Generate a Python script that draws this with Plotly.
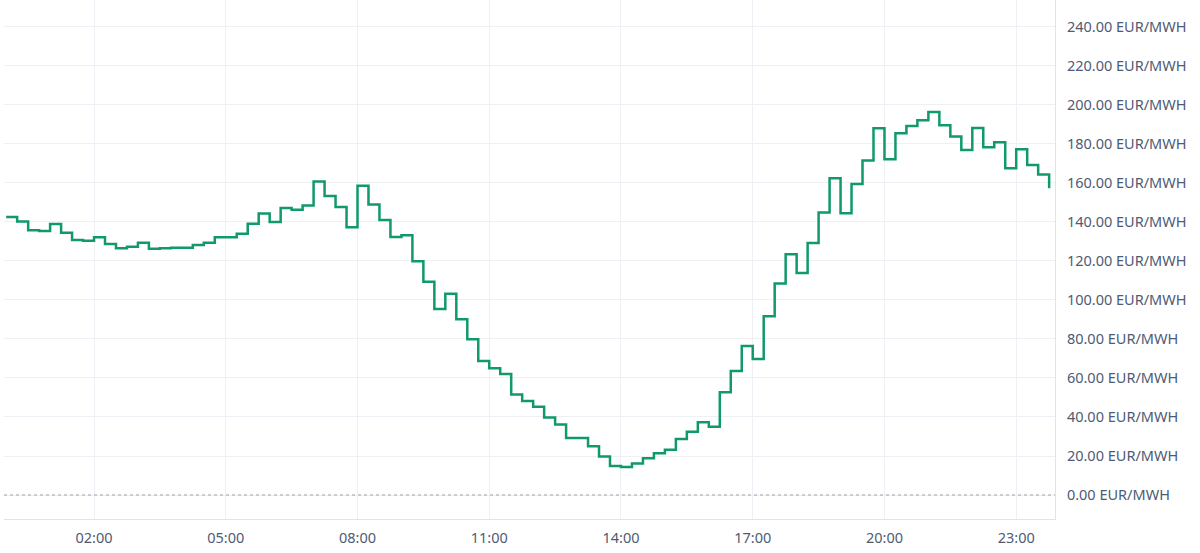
import pandas as pd
import plotly.graph_objects as go

# 15-minute intervals over one day
times = pd.date_range("2024-01-01 00:00", periods=96, freq="15min")

prices = [
    142.6, 140.2, 135.8, 135.3, 139.0, 134.5, 130.8, 130.3,
    132.1, 128.7, 126.5, 127.3, 129.4, 126.2, 126.5, 126.8,
    126.8, 128.2, 129.4, 132.1, 132.1, 134.0, 139.1, 144.3,
    140.0, 147.2, 146.3, 148.4, 160.8, 153.3, 147.7, 137.3,
    158.5, 148.9, 141.0, 132.3, 133.2, 119.8, 109.4, 95.4,
    103.2, 90.1, 79.8, 68.7, 65.0, 62.1, 51.5, 48.2,
    45.3, 39.8, 36.2, 29.2, 29.2, 25.0, 19.7, 14.9,
    14.4, 16.2, 18.8, 21.4, 23.2, 28.7, 32.4, 37.3,
    35.0, 52.7, 63.6, 76.4, 69.7, 91.6, 108.5, 123.4,
    113.8, 129.2, 144.8, 162.4, 144.4, 159.5, 171.5, 188.0,
    172.1, 185.5, 189.2, 192.1, 196.4, 189.6, 183.8, 176.9,
    188.2, 178.3, 180.9, 167.5, 177.3, 169.2, 164.3, 157.3,
]

y_ticks = [0, 20, 40, 60, 80, 100, 120, 140, 160, 180, 200, 220, 240]
y_tick_text = [f"{v:.2f} EUR/MWH" for v in y_ticks]

x_ticks = pd.date_range("2024-01-01 02:00", periods=8, freq="3h")
x_tick_text = [t.strftime("%H:%M") for t in x_ticks]

line_color = "#10996b"
grid_color = "#eef0f5"
text_color = "#4e5b74"
axis_line_color = "#e0e3eb"

fig = go.Figure()
fig.add_trace(go.Scatter(
    x=times, y=prices, mode="lines",
    line=dict(color=line_color, width=2.5, shape="hv"),
    hoverinfo="skip", showlegend=False,
))

fig.add_shape(type="line", xref="paper", yref="y", x0=0, x1=1, y0=0, y1=0,
              line=dict(color="#9aa0ab", width=1, dash="dot"))

x_start = pd.Timestamp("2024-01-01 00:00") - pd.Timedelta(minutes=3)
x_end = pd.Timestamp("2024-01-01 23:53")

fig.update_layout(
    width=1200, height=553,
    margin=dict(l=4, r=145, t=0, b=34),
    paper_bgcolor="white", plot_bgcolor="white",
    font=dict(family="Noto Sans", size=14.5, color=text_color),
    xaxis=dict(
        range=[x_start, x_end],
        tickvals=list(x_ticks), ticktext=x_tick_text,
        showgrid=True, gridcolor=grid_color, gridwidth=1,
        showline=True, linecolor=axis_line_color, linewidth=1,
        ticks="", ticklabelstandoff=6, zeroline=False,
        fixedrange=True,
    ),
    yaxis=dict(
        side="right", range=[-12.3, 253.8],
        tickvals=y_ticks, ticktext=y_tick_text,
        showgrid=True, gridcolor=grid_color, gridwidth=1,
        showline=True, linecolor=axis_line_color, linewidth=1,
        ticks="", ticklabelstandoff=8, zeroline=False,
        fixedrange=True,
    ),
)

fig.write_html(
    "out.html",
    config={"displayModeBar": False},
    post_script="document.body.style.margin='0';document.body.style.overflow='hidden';",
)
